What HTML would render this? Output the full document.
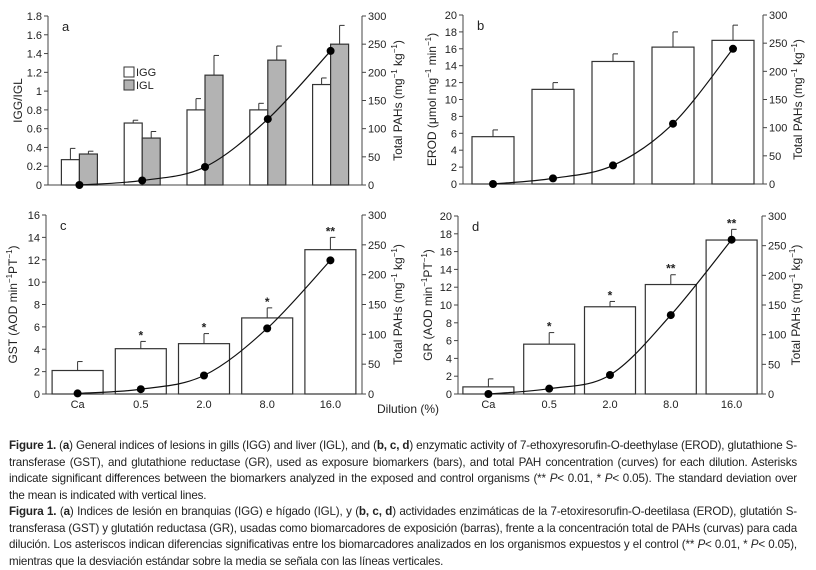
<!DOCTYPE html>
<html><head><meta charset="utf-8">
<style>
body{margin:0;background:#fff;width:816px;height:569px;overflow:hidden;font-family:"Liberation Sans",sans-serif;}
svg{position:absolute;left:0;top:0}
svg text{font-family:"Liberation Sans",sans-serif;fill:#222}
#cap{position:absolute;left:9px;top:438px;width:788px;font-size:11.6px;line-height:16.5px;color:#222;letter-spacing:-0.15px}
#cap div{text-align:justify;text-align-last:justify;white-space:nowrap;height:16.5px}
#cap div.l{text-align-last:left}
</style></head><body>
<svg id="chart" width="816" height="430"></svg>
<div id="cap">
<div><b>Figure 1.</b> (<b>a</b>) General indices of lesions in gills (IGG) and liver (IGL), and (<b>b, c, d</b>) enzymatic activity of 7-ethoxyresorufin-O-deethylase (EROD), glutathione S-</div>
<div>transferase (GST), and glutathione reductase (GR), used as exposure biomarkers (bars), and total PAH concentration (curves) for each dilution. Asterisks</div>
<div>indicate significant differences between the biomarkers analyzed in the exposed and control organisms (** <i>P</i>&lt; 0.01, * <i>P</i>&lt; 0.05). The standard deviation over</div>
<div class="l">the mean is indicated with vertical lines.</div>
<div><b>Figura 1.</b> (<b>a</b>) Indices de lesión en branquias (IGG) e hígado (IGL), y (<b>b, c, d</b>) actividades enzimáticas de la 7-etoxiresorufin-O-deetilasa (EROD), glutatión S-</div>
<div>transferasa (GST) y glutatión reductasa (GR), usadas como biomarcadores de exposición (barras), frente a la concentración total de PAHs (curvas) para cada</div>
<div>dilución. Los asteriscos indican diferencias significativas entre los biomarcadores analizados en los organismos expuestos y el control (** <i>P</i>&lt; 0.01, * <i>P</i>&lt; 0.05),</div>
<div class="l">mientras que la desviación estándar sobre la media se señala con las líneas verticales.</div>
</div>
<script>
const categories=["Ca","0.5","2.0","8.0","16.0"];
const iggValues=[0.27,0.66,0.8,0.8,1.07];
const iggErr=[0.39,0.69,0.92,0.87,1.14];
const iglValues=[0.33,0.5,1.17,1.33,1.5];
const iglErr=[0.36,0.57,1.38,1.48,1.7];
const pahA=[0,8,32,117,238];
const erodValues=[5.6,11.2,14.5,16.2,17];
const erodErr=[6.4,12,15.4,18,18.8];
const pahB=[0,10,33,107,240];
const gstValues=[2.1,4.05,4.5,6.8,12.9];
const gstErr=[2.9,4.7,5.4,7.7,14];
const gstStars=["","*","*","*","**"];
const pahC=[1,8,31,110,224];
const grValues=[0.8,5.6,9.8,12.3,17.3];
const grErr=[1.7,6.9,10.4,13.4,18.5];
const grStars=["","*","*","**","**"];
const pahD=[0,9,32,133,260];
const ticksA=[0,0.2,0.4,0.6,0.8,1,1.2,1.4,1.6,1.8];
const ticksB=[0,2,4,6,8,10,12,14,16,18,20];
const ticksC=[0,2,4,6,8,10,12,14,16];
const ticksD=[0,2,4,6,8,10,12,14,16,18,20];
const ticksR=[0,50,100,150,200,250,300];

const svg=document.getElementById('chart');
const NS='http://www.w3.org/2000/svg';
function mk(tag,at,txt){const e=document.createElementNS(NS,tag);for(const k in at)e.setAttribute(k,at[k]);if(txt!==undefined)e.textContent=txt;svg.appendChild(e);return e;}

function panel(p){
  const {x0,x1,yt,yb,ymax,ticks,letter}=p;
  const cw=(x1-x0)/categories.length;
  const xc=i=>x0+cw*(i+0.5);
  const yL=v=>yb-(v/ymax)*(yb-yt);
  const yR=v=>yb-(v/300)*(yb-yt);
  let e=mk('line',{x1:x0,y1:yt,x2:x0,y2:yb,stroke:'#444'});
  
  e=mk('line',{x1:x1,y1:yt,x2:x1,y2:yb,stroke:'#444'});
  
  e=mk('line',{x1:x0,y1:yb,x2:x1,y2:yb,stroke:'#444'});
  
  ticks.forEach(t=>{
    mk('line',{x1:x0-4,y1:yL(t),x2:x0,y2:yL(t),stroke:'#444'});
    const tx=mk('text',{x:x0-6,y:yL(t)+4,'font-size':11,'text-anchor':'end'},String(t));
    
  });
  ticksR.forEach(t=>{
    mk('line',{x1:x1,y1:yR(t),x2:x1+4,y2:yR(t),stroke:'#444'});
    const tx=mk('text',{x:x1+6,y:yR(t)+4,'font-size':11},String(t));
    
  });
  if(p.xlabels){categories.forEach((c,i)=>{
    const tx=mk('text',{x:xc(i),y:yb+14,'font-size':11,'text-anchor':'middle'},c);
    
  });}
  p.series.forEach((s,si)=>{
    s.vals.forEach((v,i)=>{
      const bw=p.bw; const bx=p.series.length===2?xc(i)-bw+si*bw:xc(i)-bw/2;
      const top=yL(v), et=yL(s.err[i]);
      const cx=bx+bw/2;
      const el=mk('line',{x1:cx,y1:top,x2:cx,y2:et,stroke:'#333'});
      
      mk('line',{x1:cx,y1:et,x2:cx+5,y2:et,stroke:'#333'});
      const r=mk('rect',{x:bx,y:top,width:bw,height:yb-top,fill:s.fill,stroke:'#333','stroke-width':1.2});
      
      if(s.stars&&s.stars[i]){const st=mk('text',{x:cx,y:et-2,'font-size':12,'font-weight':'bold','text-anchor':'middle'},s.stars[i]);
        }
    });
  });
  const pts=p.pah.map((v,i)=>[xc(i),yR(v)]);
  let d='M'+pts[0][0]+','+pts[0][1];
  for(let i=0;i<pts.length-1;i++){
    const a=pts[Math.max(0,i-1)],b=pts[i],c=pts[i+1],q=pts[Math.min(pts.length-1,i+2)];
    const c1=[b[0]+(c[0]-a[0])/6,b[1]+(c[1]-a[1])/6],c2=[c[0]-(q[0]-b[0])/6,c[1]-(q[1]-b[1])/6];
    d+=' C'+c1+' '+c2+' '+c;
  }
  e=mk('path',{d:d,fill:'none',stroke:'#111','stroke-width':1.2});
  
  pts.forEach(pt=>{const c=mk('circle',{cx:pt[0],cy:pt[1],r:4,fill:'#000'});
    });
  e=mk('text',{x:x0+14,y:yt+15,'font-size':13},letter);
  
  const ym=(yt+yb)/2;
  e=mk('text',{x:p.ltx,y:ym,'font-size':12,'text-anchor':'middle',transform:`rotate(-90 ${p.ltx} ${ym})`});
  e.innerHTML=p.ltitle;
  
  e=mk('text',{x:p.rtx,y:ym,'font-size':12,'text-anchor':'middle',transform:`rotate(-90 ${p.rtx} ${ym})`});
  e.innerHTML='Total PAHs (mg<tspan dy="-5" font-size="8">−1</tspan><tspan dy="5"> kg</tspan><tspan dy="-5" font-size="8">−1</tspan><tspan dy="5">)</tspan>';
  
}
const sup=s=>`<tspan dy="-5" font-size="8">${s}</tspan><tspan dy="5">`;
panel({id:'panel-a',x0:48,x1:362,yt:16,yb:185,ymax:1.8,ticks:ticksA,letter:'a',bw:18,pah:pahA,xlabels:false,
  ltx:22,rtx:402,ltitle:'IGG/IGL',
  series:[{name:'igg',vals:iggValues,err:iggErr,fill:'#fff'},{name:'igl',vals:iglValues,err:iglErr,fill:'#b3b3b3'}]});
panel({id:'panel-b',x0:463,x1:763,yt:15,yb:184,ymax:20,ticks:ticksB,letter:'b',bw:42,pah:pahB,xlabels:false,
  ltx:436,rtx:802,ltitle:'EROD (μmol mg'+sup('−1')+' min'+sup('−1')+')</tspan></tspan>',
  series:[{name:'erod',vals:erodValues,err:erodErr,fill:'#fff'}]});
panel({id:'panel-c',x0:46,x1:362,yt:215,yb:394,ymax:16,ticks:ticksC,letter:'c',bw:51,pah:pahC,xlabels:true,
  ltx:17,rtx:402,ltitle:'GST (AOD min'+sup('−1')+'PT'+sup('−1')+')</tspan></tspan>',
  series:[{name:'gst',vals:gstValues,err:gstErr,fill:'#fff',stars:gstStars}]});
panel({id:'panel-d',x0:458,x1:762,yt:216,yb:394,ymax:20,ticks:ticksD,letter:'d',bw:51,pah:pahD,xlabels:true,
  ltx:432,rtx:800,ltitle:'GR (AOD min'+sup('−1')+'PT'+sup('−1')+')</tspan></tspan>',
  series:[{name:'gr',vals:grValues,err:grErr,fill:'#fff',stars:grStars}]});
let lg=mk('rect',{x:124,y:67,width:10,height:10,fill:'#fff',stroke:'#333'});

lg=mk('text',{x:136,y:76,'font-size':11},'IGG');

lg=mk('rect',{x:124,y:80,width:10,height:10,fill:'#b3b3b3',stroke:'#333'});

lg=mk('text',{x:136,y:89,'font-size':11},'IGL');

lg=mk('text',{x:408,y:413,'font-size':12,'text-anchor':'middle'},'Dilution (%)');

</script>
</body></html>
